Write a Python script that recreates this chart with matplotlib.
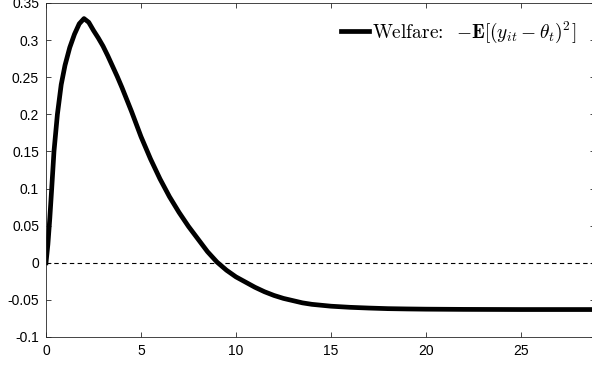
import matplotlib
matplotlib.use("Agg")
import matplotlib.pyplot as plt
from matplotlib.ticker import FuncFormatter

# welfare response
t = [0, 0.1, 0.2, 0.3, 0.42, 0.6, 0.8, 1.0, 1.25, 1.5, 1.75, 2.0, 2.25, 2.5, 2.75,
     3.0, 3.25, 3.5, 3.75, 4.0, 4.5, 5.0, 5.5, 6.0, 6.5, 7.0, 7.5, 8.0, 8.5, 9.0,
     9.5, 10, 10.5, 11, 11.5, 12, 12.5, 13, 13.5, 14, 15, 16, 17, 18, 19, 20,
     22, 25, 30]
welfare = [0, 0.025, 0.06, 0.10, 0.15, 0.20, 0.24, 0.266, 0.29, 0.308, 0.322, 0.329,
           0.324, 0.313, 0.303, 0.292, 0.279, 0.265, 0.251, 0.236, 0.204, 0.170,
           0.140, 0.113, 0.089, 0.068, 0.049, 0.032, 0.015, 0.001, -0.010, -0.019,
           -0.026, -0.033, -0.039, -0.044, -0.048, -0.051, -0.054, -0.056, -0.0585,
           -0.060, -0.061, -0.0618, -0.0622, -0.0625, -0.0628, -0.063, -0.063]

xticks = [0, 5, 10, 15, 20, 25]
yticks = [-0.1, -0.05, 0, 0.05, 0.1, 0.15, 0.2, 0.25, 0.3, 0.35]

plt.rcParams['font.family'] = ['Liberation Sans', 'DejaVu Sans']
plt.rcParams['mathtext.fontset'] = 'cm'
plt.rcParams['axes.unicode_minus'] = False

fig = plt.figure(figsize=(5.92, 3.68), dpi=100)
ax = fig.add_axes([46/592, 31/368, 549/592, 334/368])

ax.axhline(0, color='k', lw=0.8, ls=(0, (4, 3)))
ax.plot(t, welfare, color='k', lw=3.4, solid_joinstyle='round',
        label=r"$\mathrm{Welfare}$:  $-\mathbf{E}[(y_{it}-\theta_t)^2]$")

ax.set_xlim(0, 28.9)
ax.set_ylim(-0.1, 0.35)
ax.set_xticks(xticks)
ax.set_yticks(yticks)
ax.yaxis.set_major_formatter(FuncFormatter(lambda v, p: '%g' % round(v, 4)))
ax.tick_params(direction='in', length=3.5, width=0.6, color='#262626',
               labelsize=10, top=True, right=True, pad=5)
for s in ax.spines.values():
    s.set_color('#262626')
    s.set_linewidth(0.6)

leg = ax.legend(loc='upper right', frameon=False,
                handlelength=1.45, handletextpad=0.12, borderaxespad=0.3,
                bbox_to_anchor=(0.99, 0.99),
                prop={'family': 'cmr10', 'size': 14})

fig.savefig('out.png', dpi=100)
